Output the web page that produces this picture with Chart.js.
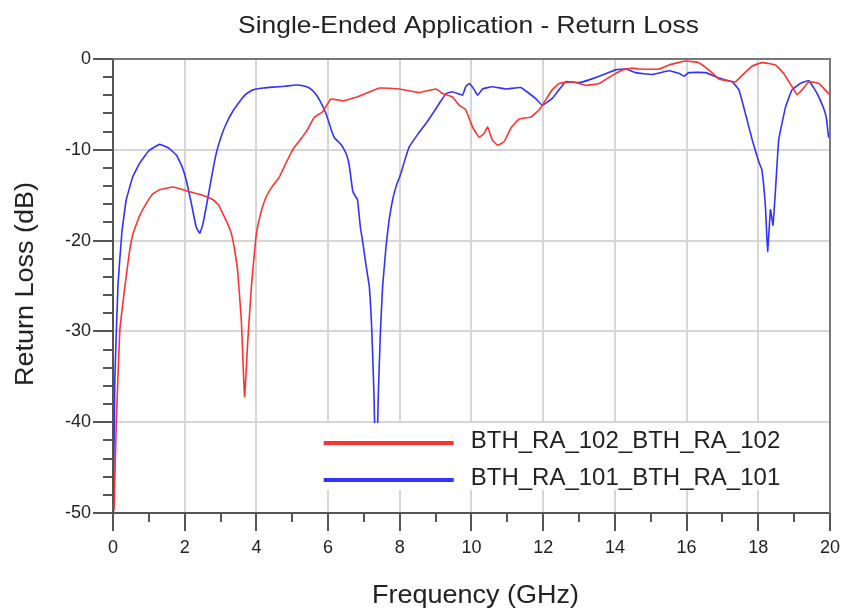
<!DOCTYPE html>
<html>
<head>
<meta charset="utf-8">
<script src="https://cdn.jsdelivr.net/npm/chart.js@4"></script>
<style>
  html, body { margin: 0; padding: 0; background: #fff; }
  #wrap { width: 846px; height: 612px; }
</style>
</head>
<body>
<div id="wrap"><canvas id="rlChart" width="846" height="612"></canvas></div>
<script>
// values (GHz, dB)
const blueName = 'BTH_RA_101_BTH_RA_101';
const blueFreq = [0.01, 0.05, 0.14, 0.25, 0.37, 0.55, 0.74, 1.0, 1.3, 1.55, 1.77, 1.92, 2.04, 2.18, 2.32, 2.42, 2.5, 2.6, 2.75, 2.88,
  3.02, 3.16, 3.35, 3.53, 3.7, 3.9, 4.2, 4.46, 4.8, 5.11, 5.3, 5.48, 5.62, 5.76, 5.94, 6.08, 6.18, 6.31, 6.41, 6.52,
  6.59, 6.65, 6.69, 6.76, 6.82, 6.9, 6.96, 7.05, 7.15, 7.22, 7.28, 7.34, 7.4, 7.46, 7.52, 7.62, 7.7, 7.8, 7.9, 8.03,
  8.15, 8.26, 8.5, 8.73, 8.92, 9.1, 9.29, 9.47, 9.61, 9.75, 9.84, 9.94, 10.08, 10.17, 10.31, 10.58, 10.96, 11.38, 11.61, 11.8,
  11.98, 12.26, 12.44, 12.63, 13.0, 13.28, 13.65, 14.02, 14.3, 14.58, 15.04, 15.51, 15.8, 15.93, 16.06, 16.53, 16.9, 17.27, 17.46, 17.64,
  17.83, 18.01, 18.1, 18.2, 18.26, 18.34, 18.41, 18.48, 18.57, 18.76, 18.94, 19.17, 19.41, 19.64, 19.82, 19.9, 19.96, 20];
const blueDb = [-50, -35.4, -24.8, -19, -15.5, -13, -11.5, -10.1, -9.4, -9.8, -10.6, -11.8, -13.3, -15.8, -18.5, -19.2, -18.3, -16.3, -13, -10.4,
  -8.5, -7.1, -5.7, -4.7, -3.9, -3.4, -3.2, -3.1, -3.0, -2.87, -2.95, -3.2, -3.7, -4.5, -6.0, -7.7, -8.7, -9.2, -9.7, -10.6,
  -11.7, -13.5, -14.6, -15.1, -15.5, -18.5, -20, -22.5, -25.1, -30, -37, -47.3, -37, -30, -25.1, -20.5, -17.8, -15.5, -14, -12.6,
  -11, -9.7, -8.3, -7.1, -6, -4.9, -3.8, -3.6, -3.8, -4.0, -3.05, -2.7, -3.4, -4.0, -3.3, -3.05, -3.3, -3.15, -3.8, -4.4,
  -5.1, -4.3, -3.4, -2.5, -2.6, -2.3, -1.76, -1.2, -1.1, -1.5, -1.7, -1.3, -1.6, -1.9, -1.5, -1.5, -2.1, -2.5, -3.4, -6.0,
  -8.9, -11.3, -12.2, -16.3, -21.2, -16.6, -18.3, -14.4, -8.9, -5.3, -3.4, -2.7, -2.4, -3.8, -5.4, -6.5, -8.6, -8.0];

const redName = 'BTH_RA_102_BTH_RA_102';
const redFreq = [0.03, 0.09, 0.19, 0.33, 0.45, 0.56, 0.75, 0.93, 1.1, 1.3, 1.67, 2.04, 2.41, 2.79, 2.95, 3.06, 3.18, 3.3, 3.4, 3.48,
  3.58, 3.67, 3.76, 3.86, 3.93, 4.0, 4.12, 4.27, 4.45, 4.64, 4.82, 5.01, 5.2, 5.39, 5.62, 5.85, 6.08, 6.41, 6.87, 7.43,
  7.99, 8.54, 9.01, 9.19, 9.47, 9.66, 9.84, 10.03, 10.21, 10.35, 10.45, 10.58, 10.73, 10.91, 11.1, 11.33, 11.65, 11.89, 12.07, 12.25,
  12.44, 12.81, 13.19, 13.56, 13.93, 14.21, 14.49, 14.67, 15.23, 15.51, 15.97, 16.34, 16.62, 16.9, 17.36, 17.55, 17.83, 18.1, 18.48, 18.71,
  18.94, 19.08, 19.22, 19.41, 19.69, 19.96, 20];
const redDb = [-49.7, -40.2, -29.9, -25.1, -21.5, -19.2, -17.2, -15.9, -14.9, -14.4, -14.1, -14.5, -14.9, -15.5, -16.1, -17.0, -18, -19.2, -21.2, -23.5,
  -28.8, -37.2, -31, -25.1, -22, -19.2, -17, -15.2, -14, -13.0, -11.5, -10.0, -9.0, -8.0, -6.4, -5.8, -4.4, -4.6, -4.1, -3.2,
  -3.3, -3.7, -3.3, -3.8, -4.2, -5.1, -5.6, -7.5, -8.6, -8.2, -7.5, -8.9, -9.5, -9.1, -7.6, -6.6, -6.4, -5.6, -4.5, -3.4,
  -2.7, -2.5, -2.9, -2.7, -1.8, -1.2, -1.0, -1.1, -1.1, -0.66, -0.22, -0.4, -1.2, -2.2, -2.5, -1.8, -0.77, -0.4, -0.66, -1.6,
  -3.05, -3.9, -3.4, -2.5, -2.7, -3.8, -4.0];

const xMin = 0, xMax = 20, xStep = 2;
const yMin = -50, yMax = 0, yStep = 10;

const chartTitle = 'Single-Ended Application - Return Loss';
const xTitle = 'Frequency (GHz)';
const yTitle = 'Return Loss (dB)';

const FONT = '"Liberation Sans", Arial, Helvetica, sans-serif';
const RED = 'rgb(255,50,50)';
const BLUE = 'rgb(50,50,255)';
const INK = '#222';

function toPoints(xs, ys){
  return xs.map((x, i) => ({ x: x, y: ys[i] }));
}

// text drawn a little wider than the font, like the original export
function wideText(ctx, text, x, y, rot, stretch){
  ctx.save();
  ctx.translate(x, y);
  ctx.rotate(rot);
  ctx.scale(stretch, 1);
  ctx.textAlign = 'center';
  ctx.textBaseline = 'alphabetic';
  ctx.fillText(text, 0, 0);
  ctx.restore();
}

// minor ticks, top/right frame, titles and the boxed legend drawn over the lines
const extras = {
  id: 'extras',
  afterDatasetsDraw(chart){
    const ctx = chart.ctx;
    const a = chart.chartArea;
    const xs = chart.scales.x, ys = chart.scales.y;
    const bx = xs.getPixelForValue(5.85), by = ys.getPixelForValue(-40.1);
    ctx.save();
    ctx.fillStyle = '#fff';
    ctx.fillRect(bx, by, a.right - bx - 1, 67);
    const items = [[redName, RED, by + 20], [blueName, BLUE, by + 57]];
    items.forEach(it => {
      ctx.strokeStyle = it[1];
      ctx.lineWidth = 4;
      ctx.beginPath();
      ctx.moveTo(bx + 1, it[2]);
      ctx.lineTo(bx + 131, it[2]);
      ctx.stroke();
      ctx.fillStyle = INK;
      ctx.font = '24px ' + FONT;
      ctx.textBaseline = 'middle';
      ctx.fillText(it[0], bx + 148, it[2] - 2);
    });
    ctx.restore();
  },
  afterDraw(chart){
    const ctx = chart.ctx;
    const a = chart.chartArea;
    const xs = chart.scales.x, ys = chart.scales.y;
    ctx.save();
    ctx.strokeStyle = '#555';
    ctx.lineWidth = 2;
    ctx.beginPath();
    for (let v = xMin + 1; v < xMax; v += 2){
      const p = Math.round(xs.getPixelForValue(v));
      ctx.moveTo(p, a.bottom); ctx.lineTo(p, a.bottom + 9);
    }
    for (let v = yMin; v < yMax; v += 2){
      if (v % 10 === 0) continue;
      const p = Math.round(ys.getPixelForValue(v));
      ctx.moveTo(a.left, p); ctx.lineTo(a.left - 10, p);
    }
    ctx.stroke();
    ctx.strokeStyle = '#777';
    ctx.beginPath();
    ctx.moveTo(a.left, a.top); ctx.lineTo(a.right, a.top); ctx.lineTo(a.right, a.bottom);
    ctx.stroke();

    const cx = (a.left + a.right) / 2;
    ctx.fillStyle = INK;
    ctx.font = '24px ' + FONT;
    wideText(ctx, chartTitle, cx - 3, 33, 0, 1.1);
    ctx.font = '25px ' + FONT;
    wideText(ctx, xTitle, cx + 4, 603, 0, 1.08);
    wideText(ctx, yTitle, 33, (a.top + a.bottom) / 2 - 2, -Math.PI / 2, 1.08);
    ctx.restore();
  }
};

const ctx = document.getElementById('rlChart').getContext('2d');
const chart = new Chart(ctx, {
  type: 'line',
  data: {
    datasets: [
      { label: redName, data: toPoints(redFreq, redDb), borderColor: RED, borderWidth: 1.6, pointRadius: 0, fill: false, tension: 0.1 },
      { label: blueName, data: toPoints(blueFreq, blueDb), borderColor: BLUE, borderWidth: 1.6, pointRadius: 0, fill: false, tension: 0.1 }
    ]
  },
  options: {
    responsive: false,
    animation: false,
    layout: { padding: { left: 9, right: 15, top: 59, bottom: 3 } },
    plugins: {
      legend: { display: false },
      tooltip: { enabled: false },
      title: { display: false }
    },
    scales: {
      x: {
        type: 'linear', min: xMin, max: xMax,
        ticks: { stepSize: xStep, color: INK, font: { family: FONT, size: 18 }, padding: 6, maxRotation: 0 },
        grid: { color: '#d6d6d6', lineWidth: 2, tickColor: '#555', tickLength: 18 },
        border: { color: '#555', width: 2 },
        afterFit(s){ s.height = 96; }
      },
      y: {
        type: 'linear', min: yMin, max: yMax,
        ticks: { stepSize: yStep, color: INK, font: { family: FONT, size: 18 }, padding: 2 },
        grid: { color: '#d6d6d6', lineWidth: 2, tickColor: '#555', tickLength: 20 },
        border: { color: '#555', width: 2 },
        afterFit(s){ s.width = 104; }
      }
    }
  },
  plugins: [extras]
});
</script>
</body>
</html>
